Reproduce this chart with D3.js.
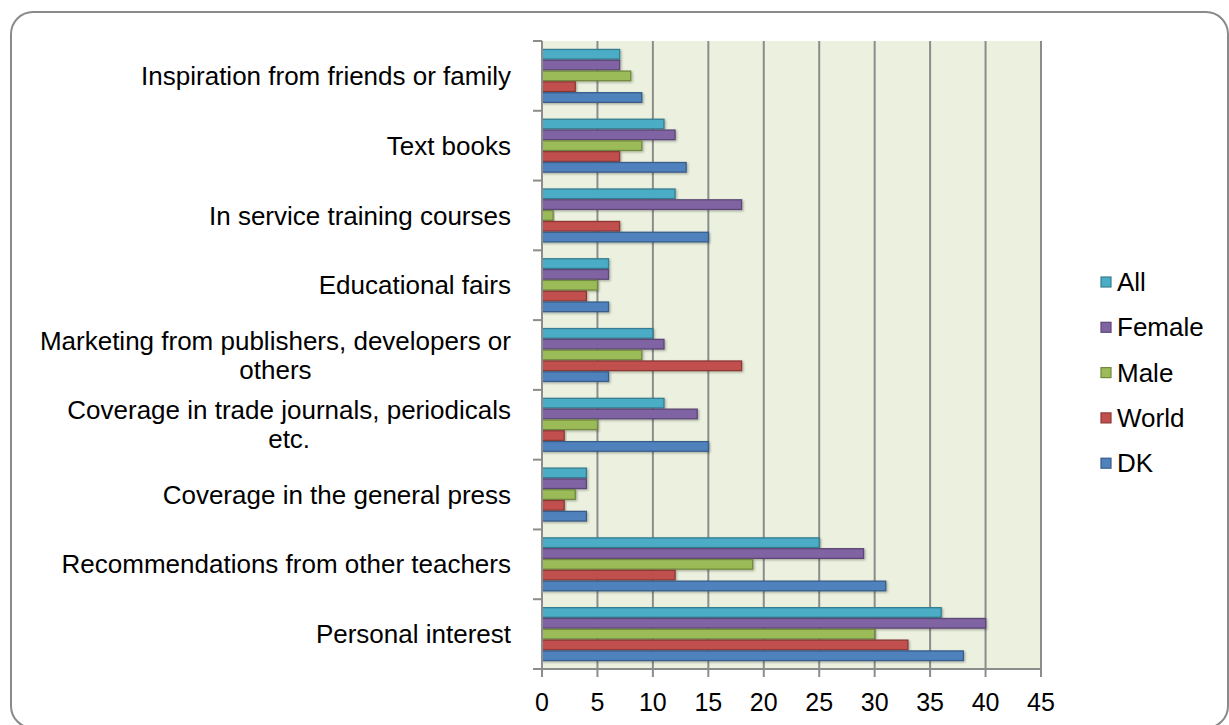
<!DOCTYPE html>
<html>
<head>
<meta charset="utf-8">
<script src="https://cdn.jsdelivr.net/npm/d3@7"></script>
<style>
  html, body { margin: 0; padding: 0; background: #fff; }
  svg { display: block; font-family: "Liberation Sans", Arial, sans-serif; }
</style>
</head>
<body>
<svg id="chart" width="1229" height="725"></svg>
<script>
// Categories, listed top to bottom as drawn
const categories = [
  "Inspiration from friends or family",
  "Text books",
  "In service training courses",
  "Educational fairs",
  "Marketing from publishers, developers or\nothers",
  "Coverage in trade journals, periodicals\netc.",
  "Coverage in the general press",
  "Recommendations from other teachers",
  "Personal interest"
];

// Series, listed top to bottom within each category
const seriesNames = ["All", "Female", "Male", "World", "DK"];
const allValues    = [7, 11, 12, 6, 10, 11, 4, 25, 36];
const femaleValues = [7, 12, 18, 6, 11, 14, 4, 29, 40];
const maleValues   = [8, 9, 1, 5, 9, 5, 3, 19, 30];
const worldValues  = [3, 7, 7, 4, 18, 2, 2, 12, 33];
const dkValues     = [9, 13, 15, 6, 6, 15, 4, 31, 38];
const xTicks = [0, 5, 10, 15, 20, 25, 30, 35, 40, 45];

const seriesValues = {
  "All": allValues, "Female": femaleValues, "Male": maleValues,
  "World": worldValues, "DK": dkValues
};
const fills   = { "All": "#4BACC6", "Female": "#8064A2", "Male": "#9BBB59", "World": "#C0504D", "DK": "#4F81BD" };
const strokes = { "All": "#357D91", "Female": "#5C4776", "Male": "#71893F", "World": "#8C3836", "DK": "#385D8A" };

const fontSize = 26;
const svg = d3.select("#chart");

// Rounded outer frame
svg.append("rect")
  .attr("x", 11).attr("y", 12).attr("width", 1217).attr("height", 716)
  .attr("rx", 22).attr("ry", 22)
  .attr("fill", "#fff").attr("stroke", "#8a8a8a").attr("stroke-width", 2);

const defs = svg.append("defs");
const shadow = defs.append("filter").attr("id", "barShadow")
  .attr("x", "-5%").attr("y", "-30%").attr("width", "115%").attr("height", "170%");
shadow.append("feDropShadow")
  .attr("dx", 1.2).attr("dy", 1.2).attr("stdDeviation", 0.8)
  .attr("flood-color", "#000").attr("flood-opacity", 0.3);

const plotLeft = 542, plotRight = 1041, plotTop = 41, plotBottom = 669;

const x = d3.scaleLinear().domain([0, 45]).range([plotLeft, plotRight]);
const y = d3.scaleBand().domain(categories).range([plotTop, plotBottom])
  .paddingInner(0.225).paddingOuter(0.1125);
const ySub = d3.scaleBand().domain(seriesNames).range([0, y.bandwidth()]);

// Plot background
svg.append("rect")
  .attr("x", plotLeft).attr("y", plotTop)
  .attr("width", plotRight - plotLeft).attr("height", plotBottom - plotTop)
  .attr("fill", "#EBF1DE");

// Vertical gridlines
svg.append("g").selectAll("line").data(xTicks.slice(1)).join("line")
  .attr("x1", d => x(d)).attr("x2", d => x(d))
  .attr("y1", plotTop).attr("y2", plotBottom)
  .attr("stroke", "#8c8c8c").attr("stroke-width", 2);

// Bars
const groups = svg.append("g").selectAll("g").data(categories).join("g")
  .attr("transform", d => `translate(0,${y(d)})`);
groups.selectAll("rect")
  .data((c, i) => seriesNames.map(s => ({ s, v: seriesValues[s][i] })))
  .join("rect")
  .attr("x", x(0))
  .attr("y", d => ySub(d.s) + 0.6)
  .attr("width", d => x(d.v) - x(0))
  .attr("height", ySub.bandwidth() - 1.2)
  .attr("fill", d => fills[d.s])
  .attr("stroke", d => strokes[d.s])
  .attr("stroke-width", 1.3)
  .attr("filter", "url(#barShadow)");

// Category axis (left)
const boundaries = d3.range(categories.length + 1)
  .map(i => plotTop + i * (plotBottom - plotTop) / categories.length);
const yAxisG = svg.append("g");
yAxisG.append("line")
  .attr("x1", plotLeft).attr("x2", plotLeft).attr("y1", plotTop).attr("y2", plotBottom)
  .attr("stroke", "#8c8c8c").attr("stroke-width", 2);
yAxisG.selectAll("line.tick").data(boundaries).join("line")
  .attr("class", "tick")
  .attr("x1", plotLeft - 9).attr("x2", plotLeft).attr("y1", d => d).attr("y2", d => d)
  .attr("stroke", "#8c8c8c").attr("stroke-width", 2);

// Category labels (multi-line labels centred on their widest line, right-aligned block)
const labelRight = 511;
const lineH = 29;
categories.forEach(c => {
  const lines = c.split("\n");
  const cy = y(c) + y.bandwidth() / 2;
  const t = svg.append("text")
    .attr("font-size", fontSize).attr("fill", "#000");
  lines.forEach((ln, i) => {
    t.append("tspan").text(ln)
      .attr("y", cy + (i - (lines.length - 1) / 2) * lineH)
      .attr("dy", "0.35em");
  });
  const widths = [];
  t.selectAll("tspan").each(function () { widths.push(this.getComputedTextLength()); });
  const maxW = d3.max(widths);
  const center = labelRight - maxW / 2;
  t.selectAll("tspan").attr("x", center).attr("text-anchor", "middle");
});

// Value axis (bottom)
const xAxisG = svg.append("g");
xAxisG.append("line")
  .attr("x1", plotLeft - 9).attr("x2", plotRight).attr("y1", plotBottom).attr("y2", plotBottom)
  .attr("stroke", "#8c8c8c").attr("stroke-width", 2);
xAxisG.selectAll("line.tick").data(xTicks).join("line")
  .attr("class", "tick")
  .attr("x1", d => x(d)).attr("x2", d => x(d))
  .attr("y1", plotBottom).attr("y2", plotBottom + 8)
  .attr("stroke", "#8c8c8c").attr("stroke-width", 2);
xAxisG.selectAll("text").data(xTicks).join("text")
  .attr("x", d => x(d)).attr("y", 702).attr("dy", "0.35em")
  .attr("text-anchor", "middle").attr("font-size", fontSize - 1).attr("fill", "#000")
  .text(d => d);

// Legend
const legend = svg.append("g").selectAll("g").data(seriesNames).join("g")
  .attr("transform", (d, i) => `translate(1101,${282 + i * 45.3})`);
legend.append("rect")
  .attr("x", 0).attr("y", -5).attr("width", 10).attr("height", 10)
  .attr("fill", d => fills[d]).attr("stroke", d => strokes[d]).attr("stroke-width", 1.2);
legend.append("text")
  .attr("x", 16).attr("y", 0).attr("dy", "0.35em")
  .attr("font-size", fontSize).attr("fill", "#000")
  .text(d => d);
</script>
</body>
</html>
